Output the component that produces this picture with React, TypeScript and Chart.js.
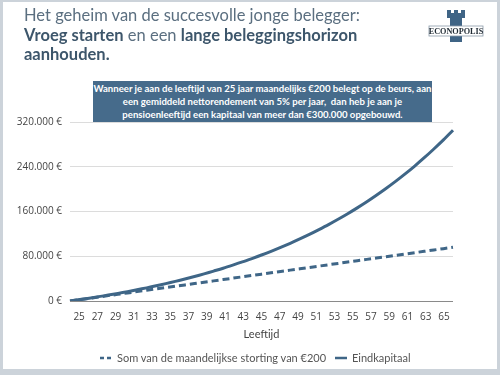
import React, { useEffect, useRef } from "react";
import { Chart, registerables } from "chart.js";

Chart.register(...registerables);

const ages: string[] = [
  "25", "26", "27", "28", "29", "30", "31", "32", "33", "34", "35", "36", "37", "38",
  "39", "40", "41", "42", "43", "44", "45", "46", "47", "48", "49", "50", "51", "52",
  "53", "54", "55", "56", "57", "58", "59", "60", "61", "62", "63", "64", "65",
];

const ageTickLabels: string[] = [
  "25", "27", "29", "31", "33", "35", "37", "39", "41", "43", "45", "47", "49", "51",
  "53", "55", "57", "59", "61", "63", "65",
];

const stortingen: number[] = [
  0, 2400, 4800, 7200, 9600, 12000, 14400, 16800, 19200, 21600, 24000, 26400, 28800,
  31200, 33600, 36000, 38400, 40800, 43200, 45600, 48000, 50400, 52800, 55200, 57600,
  60000, 62400, 64800, 67200, 69600, 72000, 74400, 76800, 79200, 81600, 84000, 86400,
  88800, 91200, 93600, 96000,
];

const eindkapitaal: number[] = [
  0, 2500, 5000, 7800, 10600, 13600, 16800, 20100, 23500, 27200, 31100, 35100, 39400,
  43800, 48500, 53500, 58600, 64100, 69800, 75900, 82200, 88900, 95900, 103200, 111000,
  119100, 127700, 136600, 146100, 156000, 166500, 177400, 189000, 201100, 213800,
  227200, 241300, 256100, 271700, 288000, 305200,
];

const yTicks: number[] = [0, 80000, 160000, 240000, 320000];

const seriesNames: string[] = [
  "Som van de maandelijkse storting van €200",
  "Eindkapitaal",
];

const LINE = "#3f6687";
const FONT = "Lato, 'Open Sans', sans-serif";

function fmtEuro(v: number): string {
  const s = Math.round(v).toString().replace(/\B(?=(\d{3})+(?!\d))/g, ".");
  return s + " €";
}

export default function App() {
  const ref = useRef<HTMLCanvasElement | null>(null);

  useEffect(() => {
    if (!ref.current) return;
    const chart = new Chart(ref.current, {
      type: "line",
      data: {
        labels: ages,
        datasets: [
          {
            label: seriesNames[0],
            data: stortingen,
            borderColor: LINE,
            backgroundColor: LINE,
            borderWidth: 3,
            borderDash: [7, 4],
            pointRadius: 0,
            tension: 0,
          },
          {
            label: seriesNames[1],
            data: eindkapitaal,
            borderColor: LINE,
            backgroundColor: LINE,
            borderWidth: 3,
            pointRadius: 0,
            tension: 0.3,
          },
        ],
      },
      options: {
        animation: false,
        responsive: false,
        maintainAspectRatio: false,
        layout: { padding: { top: 122, right: 47, bottom: 34, left: 0 } },
        plugins: {
          tooltip: { enabled: false },
          legend: { display: false },
        },
        scales: {
          x: {
            offset: false,
            border: { display: false },
            grid: { display: false, drawTicks: false },
            ticks: { display: false },
            afterFit: (s: any) => {
              s.height = 0;
            },
          },
          xLabels: {
            type: "category",
            position: "bottom",
            labels: ageTickLabels,
            offset: true,
            border: { display: false },
            grid: { display: false, drawTicks: false },
            ticks: {
              autoSkip: false,
              maxRotation: 0,
              color: "#444",
              padding: 10,
              font: { family: "'Open Sans', sans-serif", size: 10 },
            },
            title: {
              display: true,
              text: "Leeftijd",
              color: "#444",
              padding: { top: 0, bottom: 0 },
              font: { family: FONT, size: 11 },
            },
            afterFit: (s: any) => {
              s.height = 40;
            },
          },
          y: {
            min: 0,
            max: 320000,
            border: { display: false },
            grid: {
              color: (c: any) => (c.tick && c.tick.value === 0 ? "#8a8a8a" : "#dcdcdc"),
              lineWidth: 1,
              drawTicks: false,
            },
            afterBuildTicks: (s: any) => {
              s.ticks = yTicks.map((v) => ({ value: v }));
            },
            ticks: {
              color: "#444",
              padding: 8,
              font: { family: "'Open Sans', sans-serif", size: 10 },
              callback: (v: any) => fmtEuro(Number(v)),
            },
            afterFit: (s: any) => {
              s.width = 70;
            },
          },
        },
      },
    });
    return () => chart.destroy();
  }, []);

  const legendText: React.CSSProperties = {
    position: "absolute",
    top: 351,
    fontFamily: FONT,
    fontSize: 11,
    lineHeight: "14px",
    color: "#555",
    whiteSpace: "nowrap",
  };

  return (
    <div style={{ position: "relative", width: 500, height: 375, background: "#fff", overflow: "hidden" }}>
      <style>{`body{margin:0}`}</style>
      <canvas ref={ref} width={500} height={375} style={{ position: "absolute", left: 0, top: 0, width: 500, height: 375 }} />
      <div
        style={{
          position: "absolute",
          left: 24,
          top: 6,
          fontFamily: FONT,
          fontSize: 16.5,
          lineHeight: "19.5px",
          color: "#5b6f80",
          whiteSpace: "nowrap",
        }}
      >
        <div>Het geheim van de succesvolle jonge belegger:</div>
        <div>
          <b style={{ color: "#3d566b" }}>Vroeg starten</b> en een{" "}
          <b style={{ color: "#3d566b" }}>lange beleggingshorizon</b>
        </div>
        <div>
          <b style={{ color: "#3d566b" }}>aanhouden.</b>
        </div>
      </div>
      <div
        style={{
          position: "absolute",
          left: 93,
          top: 81,
          width: 339,
          height: 41,
          background: "#466b8b",
          color: "#fff",
          fontFamily: FONT,
          fontWeight: 700,
          fontSize: 9.6,
          lineHeight: "13px",
          textAlign: "center",
          paddingTop: 1,
          boxSizing: "border-box",
        }}
      >
        Wanneer je aan de leeftijd van 25 jaar maandelijks €200 belegt op de beurs, aan
        <br />
        een gemiddeld nettorendement van 5% per jaar,&nbsp; dan heb je aan je
        <br />
        pensioenleeftijd een kapitaal van meer dan €300.000 opgebouwd.
      </div>
      <svg width={400} height={10} style={{ position: "absolute", left: 0, top: 353 }}>
        <line x1={100} y1={5} x2={113} y2={5} stroke={LINE} strokeWidth={2.5} strokeDasharray="4 3" />
        <line x1={335} y1={5} x2={347} y2={5} stroke={LINE} strokeWidth={2.5} />
      </svg>
      <div style={{ ...legendText, left: 117 }}>{seriesNames[0]}</div>
      <div style={{ ...legendText, left: 352 }}>{seriesNames[1]}</div>
      <svg width={60} height={40} style={{ position: "absolute", left: 426, top: 8 }}>
        <path
          d="M21 2 H25 V5 H28 V2 H32 V5 H35 V2 H39 V10 H36 V34 H24 V10 H21 Z"
          fill="#3f6485"
        />
        <rect x={3} y={18} width={54} height={10} fill="#fff" stroke="#8a9aa8" strokeWidth={0.8} />
        <text
          x={30}
          y={26}
          textAnchor="middle"
          fontFamily="'Liberation Serif', serif"
          fontWeight={700}
          fontSize={8.2}
          fill="#1f2a33"
        >
          ECONOPOLIS
        </text>
      </svg>
      <div
        style={{
          position: "absolute",
          left: 0,
          top: 0,
          width: 500,
          height: 375,
          boxSizing: "border-box",
          borderLeft: "3px solid #ccd3da",
          borderRight: "3px solid #ccd3da",
          borderTop: "2px solid #ccd3da",
          borderBottom: "6px solid #ccd3da",
          pointerEvents: "none",
        }}
      />
    </div>
  );
}
